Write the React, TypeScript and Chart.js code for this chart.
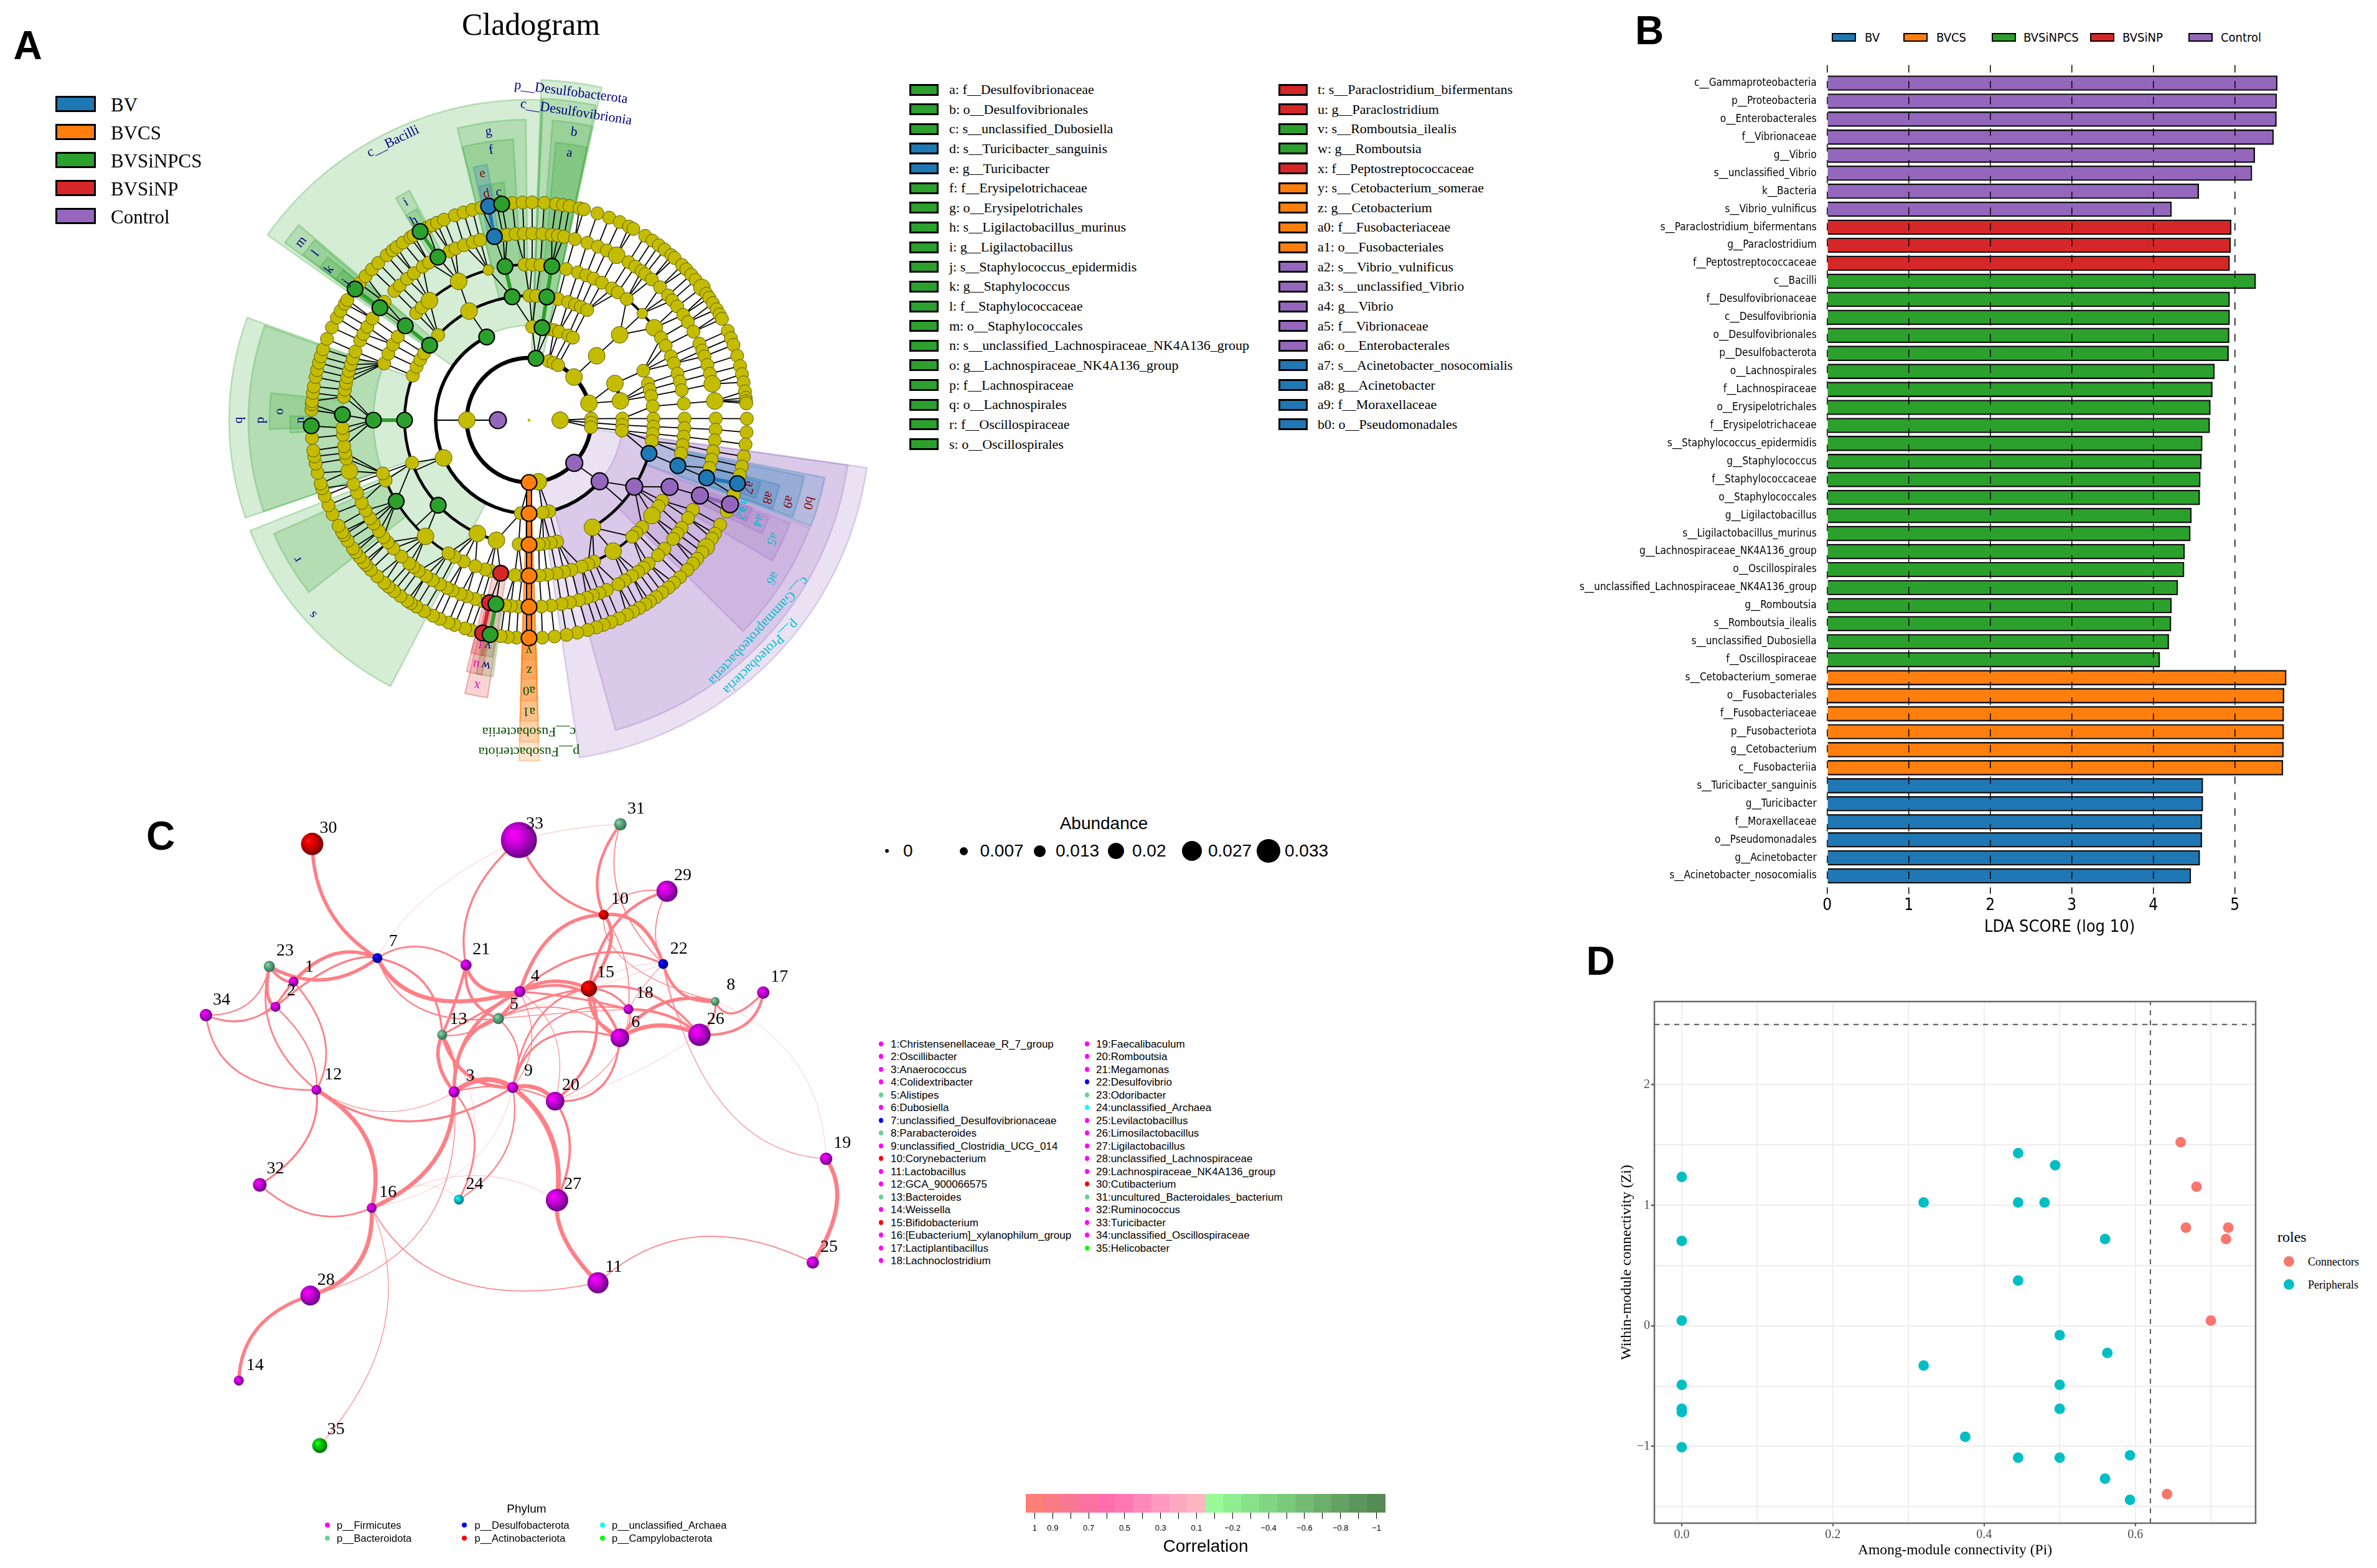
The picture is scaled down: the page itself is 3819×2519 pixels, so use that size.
import React, { useEffect, useRef } from "react";
import { Chart, registerables } from "chart.js";
Chart.register(...registerables);

/* ---------- shared ---------- */
const GROUP_COLORS: Record<string, string> = { BV: "#1F77B4", BVCS: "#FF7F0E", BVSiNPCS: "#2CA02C", BVSiNP: "#D62728", Control: "#9467BD" };
const GROUP_RGB: Record<string, string> = { BV: "31,119,180", BVCS: "255,127,14", BVSiNPCS: "44,160,44", BVSiNP: "214,39,40", Control: "148,103,189" };
const GROUP_NAMES = ["BV", "BVCS", "BVSiNPCS", "BVSiNP", "Control"];
const SERIF = '"Liberation Serif"';
const SANS = '"Liberation Sans"';
const COND = '"DejaVu Sans Condensed","DejaVu Sans"';

/* ---------- panel A: cladogram taxa legend ---------- */
const cladeKeyLeft: [string, string][] = [
  ["a: f__Desulfovibrionaceae", "BVSiNPCS"], ["b: o__Desulfovibrionales", "BVSiNPCS"], ["c: s__unclassified_Dubosiella", "BVSiNPCS"],
  ["d: s__Turicibacter_sanguinis", "BV"], ["e: g__Turicibacter", "BV"], ["f: f__Erysipelotrichaceae", "BVSiNPCS"],
  ["g: o__Erysipelotrichales", "BVSiNPCS"], ["h: s__Ligilactobacillus_murinus", "BVSiNPCS"], ["i: g__Ligilactobacillus", "BVSiNPCS"],
  ["j: s__Staphylococcus_epidermidis", "BVSiNPCS"], ["k: g__Staphylococcus", "BVSiNPCS"], ["l: f__Staphylococcaceae", "BVSiNPCS"],
  ["m: o__Staphylococcales", "BVSiNPCS"], ["n: s__unclassified_Lachnospiraceae_NK4A136_group", "BVSiNPCS"], ["o: g__Lachnospiraceae_NK4A136_group", "BVSiNPCS"],
  ["p: f__Lachnospiraceae", "BVSiNPCS"], ["q: o__Lachnospirales", "BVSiNPCS"], ["r: f__Oscillospiraceae", "BVSiNPCS"], ["s: o__Oscillospirales", "BVSiNPCS"],
];
const cladeKeyRight: [string, string][] = [
  ["t: s__Paraclostridium_bifermentans", "BVSiNP"], ["u: g__Paraclostridium", "BVSiNP"], ["v: s__Romboutsia_ilealis", "BVSiNPCS"],
  ["w: g__Romboutsia", "BVSiNPCS"], ["x: f__Peptostreptococcaceae", "BVSiNP"], ["y: s__Cetobacterium_somerae", "BVCS"],
  ["z: g__Cetobacterium", "BVCS"], ["a0: f__Fusobacteriaceae", "BVCS"], ["a1: o__Fusobacteriales", "BVCS"],
  ["a2: s__Vibrio_vulnificus", "Control"], ["a3: s__unclassified_Vibrio", "Control"], ["a4: g__Vibrio", "Control"],
  ["a5: f__Vibrionaceae", "Control"], ["a6: o__Enterobacterales", "Control"], ["a7: s__Acinetobacter_nosocomialis", "BV"],
  ["a8: g__Acinetobacter", "BV"], ["a9: f__Moraxellaceae", "BV"], ["b0: o__Pseudomonadales", "BV"],
];

/* ---------- panel A: cladogram nodes, angle in degrees clockwise from top, per depth ring ---------- */
const ringRadii = [50, 100, 150, 200, 250, 300, 350];
const ring50 = [90];
const ring100 = [-90, 18.4, 23.3, 27.8, 46.2, 74.3, 88.6, 92.3, 96.5, 171.4];
const ring150 = [1.9, 12.2, 15.5, 18.7, 24.9, 28, 46.4, 66.9, 78.1, 89, 93, 96.4, 167.5, 171.7, 185.1, 246.2];
const ring200 = [-69, -64.6, -60.9, -57.5, -46.9, -28.8, 0.2, 3.3, 13.5, 18.3, 21.7, 24.6, 27.8, 46.7, 66.6, 72.8, 75.8, 78.8, 83.6, 89.3, 93, 96.3, 99.7, 149.4, 167, 170, 173.3, 175.5, 184.8, 195.2, 204.5, 250];
const ring250 = [-68.6, -64.7, -60.9, -57.5, -46.5, -43.6, -39.8, -26.9, -15.2, -1.7, 1.1, 4.2, 13.8, 18.3, 21.5, 24.5, 27.9, 32.2, 34.8, 38.9, 46.7, 53.6, 58, 61.4, 65.8, 68.6, 72.6, 75.6, 78.9, 83.9, 89.4, 92.9, 96.1, 99.2, 102.3, 121.2, 123.6, 127.8, 133.4, 136.4, 138.5, 147.3, 155.3, 157.7, 160.3, 164.2, 167, 169.8, 173.3, 176.2, 182.5, 185.3, 194.2, 196.4, 200.2, 204.8, 208.6, 211.2, 221.7, 247.2, 250];
const ring300 = [-82.8, -80.6, -78.6, -76.7, -74.7, -72.7, -70.7, -68.4, -64.7, -62.5, -60, -57, -50.7, -46.2, -43.8, -40.8, -38.1, -34.7, -32.4, -25.2, -23.2, -20.4, -17.5, -15.2, -8, -6.7, -4.1, -1.6,
  1, 4.1, 7, 8.9, 10.8, 14.2, 18.2, 21.6, 24.6, 28, 32.2, 34.7, 37, 38.5, 41.1, 44.6, 48.1, 50.1, 52.5, 55.7, 58.3, 61.7, 65.8, 68.1, 70, 72.8, 75.6, 78.8, 84.1, 89.5,
  92.9, 96.2, 99.6, 102.2, 104.8, 118.7, 121.6, 125.2, 127.4, 129.5, 133.5, 136.3, 140.2, 142.2, 144.3, 146.6, 149.2, 151.5, 155.4, 157.9, 160, 162, 164.5, 167.4, 170, 173.2, 176.2,
  183.3, 185.6, 187.4, 194.6, 196.8, 199.5, 201.5, 204.2, 206.1, 208.5, 211.1, 213.5, 216.2, 218.2, 219.9, 223.1, 226.6, 229.2, 231.2, 233.5, 236.4, 238.3, 241.1, 243.7, 247.1, 250, 254.2, 258.1, 259.9, 262, 265.5, 267.6];
const ring350 = [-87.3, -85.8, -85, -82.8, -81.1, -78.6, -76.7, -74.7, -73, -71, -68.1, -64.8, -61.9, -59.9, -57.7, -56.5, -51.1, -48.6, -46.2, -43.8, -40.8, -38.8, -37.4, -35.4, -33, -32, -27.9, -26.6, -25, -23, -19.9, -17.5, -15.1, -12.6, -8.5, -4.4, -1.7,
  0.8, 4, 7.1, 9, 10.7, 13.4, 14.6, 18.3, 21.6, 24.6, 27.3, 28.6, 32.2, 34.5, 36.6, 38.5, 40.8, 41.9, 44.6, 46.2, 48.1, 49.9, 52.5, 54.5, 55.8, 57.5, 59.4, 61, 62.3, 65.8, 67.9, 69.8, 72.8, 75.6, 77.8, 80, 82.4, 84.1, 85, 85.6, 89.6,
  93.2, 96.4, 99.6, 102.3, 104.6, 110, 114.8, 118.7, 121.4, 122.9, 125.6, 127.3, 129.5, 131.2, 133.4, 136.1, 138.3, 140.2, 142.3, 144.3, 146.3, 147.7, 149.6, 151.5, 153.3, 155.6, 157.9, 160, 162, 164.4, 167.2, 170.1, 173.3, 176.5,
  183.3, 185.6, 187.5, 195.4, 197.1, 200, 201.7, 204.2, 206.2, 208.8, 211.2, 212.9, 214, 216.2, 218.3, 220.2, 221.7, 224.2, 226.6, 228.4, 229.4, 231.1, 232.7, 234, 236.4, 238.2, 239.1, 241, 244.4, 247, 249.7, 251.8, 253.1, 256, 258.5, 260.4, 262, 265.3];
const bigYellow: [number, number][] = [[100, -90], [100, 46.2], [100, 74.3], [100, 171.4], [150, 246.2], [150, 46.4], [150, 78.1], [150, 66.9], [200, 46.7], [200, -28.8], [200, 149.4], [200, 195.2], [200, 204.5], [250, -26.9], [250, 147.3], [250, 221.7], [250, 53.6], [250, 127.8], [250, -39.8], [300, 254.2], [300, 28], [300, 84.1], [300, 78.8], [350, 125.6], [350, 52.5]];
const smallYellow: [number, number][] = [[250, -15.2], [250, 46.7]];
const hlGreen: [number, number][] = [[100, 6.3], [150, 8], [200, 8.2], [250, 8.4], [150, -27], [200, -90], [250, -90], [300, -88.3], [350, -91.5], [200, -53], [250, -52.7], [300, -53], [350, -53], [200, -7.8], [250, -8.9], [300, -29.2], [350, -30], [350, -7.2], [200, 226.9], [250, 238.6], [300, 190.2], [350, 190.3]];
const hlBlue: [number, number][] = [[300, -10.7], [350, -10.7], [200, 105.5], [250, 107], [300, 108], [350, 106.9]];
const hlRed: [number, number][] = [[250, 190.5], [300, 192.2], [350, 192.3]];
const hlOrange: [number, number][] = [[100, 180], [150, 180], [200, 180], [250, 180], [300, 180], [350, 180]];
const hlPurple: [number, number][] = [[50, -90], [100, 133.4], [150, 130.9], [200, 122.3], [250, 115.4], [300, 113.8], [350, 112.7]];
// thick arcs that join sibling clades: ring radius, from angle, to angle
const cladeArcs: [number, number, number][] = [[100, 92, 434.3], [150, 131, 180], [150, 180, 333], [150, 66.9, 78.1], [200, -90, -69], [200, -46.9, 8.2], [200, 105.5, 149.4], [200, 195.2, 270], [200, 180, 184.8], [250, -39.8, -15.2], [250, -8.9, 1.1], [250, 38.9, 53.6], [250, 138.5, 155.3], [250, 211.2, 250]];
const cladeSpokes: [number, number, number][] = [[100, 150, -90], [150, 200, 246.2], [150, 200, 131], [200, 250, 226.9]];
// highlight sectors: inner ring, outer reach, from angle, to angle, group
const cladeSectors: [number, number, number, number, string][] = [
  [152, 515, -54.7, 2.5, "BVSiNPCS"], [100, 547, 2.1, 12.3, "BVSiNPCS"], [150, 517, 2.3, 12, "BVSiNPCS"], [200, 483, 4.5, 12.2, "BVSiNPCS"], [250, 448, 5.5, 12, "BVSiNPCS"],
  [200, 483, -13.8, -0.6, "BVSiNPCS"], [250, 452, -13.7, -3.2, "BVSiNPCS"], [350, 384, -9, -6, "BVSiNPCS"], [300, 416, -12.4, -9.3, "BV"], [350, 384, -12, -9.5, "BV"],
  [200, 485, -54, -49.7, "BVSiNPCS"], [250, 450, -53.8, -50, "BVSiNPCS"], [300, 416, -54, -51, "BVSiNPCS"], [350, 384, -54, -51, "BVSiNPCS"],
  [300, 416, -31, -27.5, "BVSiNPCS"], [350, 384, -31, -28, "BVSiNPCS"],
  [200, 482, -109, -70, "BVSiNPCS"], [250, 451, -109, -70.3, "BVSiNPCS"], [300, 417, -92, -84, "BVSiNPCS"], [350, 384, -93, -89, "BVSiNPCS"],
  [150, 482, -152.5, -111.6, "BVSiNPCS"], [250, 449, -128, -114, "BVSiNPCS"],
  [300, 416, 188, 191.8, "BVSiNPCS"], [350, 385, 188.8, 191.5, "BVSiNPCS"], [250, 451, 188.5, 193.2, "BVSiNP"], [300, 416, 190.5, 194, "BVSiNP"], [350, 385, 191, 194, "BVSiNP"],
  [100, 547, 178.3, 181.7, "BVCS"], [150, 517, 178.3, 181.7, "BVCS"], [200, 483, 178.3, 181.7, "BVCS"], [250, 451, 178.3, 181.7, "BVCS"], [300, 416, 178.3, 181.7, "BVCS"], [350, 385, 178.3, 181.7, "BVCS"],
  [100, 548, 98, 171.5, "Control"], [150, 517, 98, 164.4, "Control"], [200, 483, 111, 134.6, "Control"], [250, 451, 111.5, 120, "Control"], [300, 416, 112, 116, "Control"], [350, 385, 111.5, 115, "Control"],
  [200, 484, 101, 110.6, "BV"], [250, 451, 101.5, 110.2, "BV"], [300, 416, 104.5, 110, "BV"], [350, 385, 105, 109, "BV"],
];
const NAVY = "#000080", MAROON = "#8B0000", CYAN = "#00BFCF", MAG = "#E000C0", DKGREEN = "#004D00";
const cladeLabels: [string, number, number, string, number][] = [
  ["a", 434, 8.6, NAVY, 21], ["b", 468, 8.9, NAVY, 21], ["c", 369, -7.6, NAVY, 21], ["d", 370, -10.7, MAROON, 21], ["e", 403, -10.7, MAROON, 21], ["f", 438, -8, NAVY, 21], ["g", 468, -8, NAVY, 21],
  ["h", 370, -30, NAVY, 21], ["i", 402, -29.5, NAVY, 21], ["j", 368, -53, NAVY, 21], ["k", 402, -53, NAVY, 21], ["l", 435, -52, NAVY, 21], ["m", 465, -52, NAVY, 21],
  ["n", 368, -90, NAVY, 21], ["o", 401, -88, NAVY, 21], ["p", 432, -90, NAVY, 21], ["q", 467, -90, NAVY, 21], ["r", 434, -121, NAVY, 21], ["s", 467, -132, NAVY, 21],
  ["t", 370, 192.3, MAG, 21], ["u", 401, 192.2, MAG, 21], ["v", 368, 190.3, NAVY, 21], ["w", 400, 190, NAVY, 21], ["x", 434, 191.1, MAG, 21],
  ["y", 370, 180, DKGREEN, 21], ["z", 402, 180, DKGREEN, 21], ["a0", 434, 180, DKGREEN, 21], ["a1", 468, 180, DKGREEN, 21],
  ["a2", 373, 113.5, CYAN, 21], ["a3", 370, 111.5, CYAN, 21], ["a4", 402, 113.6, CYAN, 21], ["a5", 435, 116, CYAN, 21], ["a6", 466, 123, CYAN, 21],
  ["a7", 369, 107, MAROON, 21], ["a8", 403, 108, MAROON, 21], ["a9", 436, 107.5, MAROON, 21], ["b0", 468, 106.5, MAROON, 21],
  ["c__Bacilli", 498, -26, NAVY, 22], ["p__Desulfobacterota", 531, 7.3, NAVY, 22], ["c__Desulfovibrionia", 500, 8.7, NAVY, 22],
  ["c__Fusobacteriia", 500, 180, DKGREEN, 22], ["p__Fusobacteriota", 532, 180, DKGREEN, 22], ["c__Gammaproteobacteria", 500, 132.5, CYAN, 22], ["p__Proteobacteria", 532, 135.6, CYAN, 22],
];

/* ---------- panel B: LDA scores ---------- */
const ldaLabels = ["c__Gammaproteobacteria", "p__Proteobacteria", "o__Enterobacterales", "f__Vibrionaceae", "g__Vibrio", "s__unclassified_Vibrio", "k__Bacteria", "s__Vibrio_vulnificus",
  "s__Paraclostridium_bifermentans", "g__Paraclostridium", "f__Peptostreptococcaceae",
  "c__Bacilli", "f__Desulfovibrionaceae", "c__Desulfovibrionia", "o__Desulfovibrionales", "p__Desulfobacterota", "o__Lachnospirales", "f__Lachnospiraceae", "o__Erysipelotrichales", "f__Erysipelotrichaceae", "s__Staphylococcus_epidermidis", "g__Staphylococcus", "f__Staphylococcaceae", "o__Staphylococcales", "g__Ligilactobacillus", "s__Ligilactobacillus_murinus", "g__Lachnospiraceae_NK4A136_group", "o__Oscillospirales", "s__unclassified_Lachnospiraceae_NK4A136_group", "g__Romboutsia", "s__Romboutsia_ilealis", "s__unclassified_Dubosiella", "f__Oscillospiraceae",
  "s__Cetobacterium_somerae", "o__Fusobacteriales", "f__Fusobacteriaceae", "p__Fusobacteriota", "g__Cetobacterium", "c__Fusobacteriia",
  "s__Turicibacter_sanguinis", "g__Turicibacter", "f__Moraxellaceae", "o__Pseudomonadales", "g__Acinetobacter", "s__Acinetobacter_nosocomialis"];
const ldaValues = [5.52, 5.513, 5.51, 5.475, 5.244, 5.21, 4.557, 4.223, 4.955, 4.948, 4.936, 5.256, 4.936, 4.936, 4.93, 4.923, 4.75, 4.724, 4.7, 4.692, 4.6, 4.59, 4.576, 4.57, 4.467, 4.454, 4.384, 4.377, 4.3, 4.223, 4.217, 4.19, 4.08, 5.63, 5.603, 5.6, 5.6, 5.597, 5.59, 4.608, 4.608, 4.596, 4.595, 4.57, 4.46];
const ldaGroupSpans: [string, number][] = [["Control", 8], ["BVSiNP", 3], ["BVSiNPCS", 22], ["BVCS", 6], ["BV", 6]];
const ldaTicks = [0, 1, 2, 3, 4, 5];

/* ---------- panel C: network ---------- */
const genera = ["Christensenellaceae_R_7_group", "Oscillibacter", "Anaerococcus", "Colidextribacter", "Alistipes", "Dubosiella", "unclassified_Desulfovibrionaceae", "Parabacteroides", "unclassified_Clostridia_UCG_014", "Corynebacterium", "Lactobacillus", "GCA_900066575", "Bacteroides", "Weissella", "Bifidobacterium", "[Eubacterium]_xylanophilum_group", "Lactiplantibacillus", "Lachnoclostridium", "Faecalibaculum", "Romboutsia", "Megamonas", "Desulfovibrio", "Odoribacter", "unclassified_Archaea", "Levilactobacillus", "Limosilactobacillus", "Ligilactobacillus", "unclassified_Lachnospiraceae", "Lachnospiraceae_NK4A136_group", "Cutibacterium", "uncultured_Bacteroidales_bacterium", "Ruminococcus", "Turicibacter", "unclassified_Oscillospiraceae", "Helicobacter"];
const F = "p__Firmicutes", B = "p__Bacteroidota", D = "p__Desulfobacterota", A = "p__Actinobacteriota", R = "p__unclassified_Archaea", K = "p__Campylobacterota";
const generaPhylum = [F, F, F, F, B, F, D, B, F, A, F, F, B, F, A, F, F, F, F, F, F, D, B, R, F, F, F, F, F, A, B, F, F, F, K];
const phylumColor: Record<string, string> = { [F]: "#FF00FF", [B]: "#66D18F", [D]: "#0000FF", [A]: "#FF0000", [R]: "#00FFFF", [K]: "#00FF00" };
const phylumShade: Record<string, string[]> = {
  [F]: ["#FF00FF", "#C800D8", "#62007E"], [B]: ["#8FE0A8", "#5FA57E", "#2E6B50"], [D]: ["#2020FF", "#0000D8", "#00006E"],
  [A]: ["#FF1010", "#D80000", "#6E0000"], [R]: ["#20FFFF", "#00C8D0", "#006A70"], [K]: ["#30FF30", "#00C800", "#006A00"],
};
const phylumOrder = [[F, B], [D, A], [R, K]];
const nodeX = [355, 317, 692, 830, 785, 1040, 531, 1240, 815, 1006, 994, 403, 667, 240, 975, 519, 1341, 1058, 1473, 904, 717, 1131, 304, 702, 1445, 1207, 908, 390, 1139, 394, 1041, 284, 828, 171, 410];
const nodeY = [376, 427, 600, 396, 451, 490, 328, 416, 591, 240, 988, 596, 484, 1187, 390, 836, 398, 432, 736, 619, 342, 340, 345, 819, 947, 484, 820, 1014, 192, 96, 56, 789, 88, 444, 1319];
const nodeSize = [8, 8, 9, 9, 9, 15, 8, 7, 9, 8, 17, 8, 8, 8, 13, 8, 10, 8, 10, 15, 9, 8, 9, 8, 10, 18, 18, 16, 17, 18, 10, 11, 29, 10, 12];
const labelX = [388, 350, 726, 862, 818, 1073, 564, 1273, 848, 1040, 1027, 438, 701, 274, 1010, 553, 1375, 1092, 1507, 937, 749, 1164, 337, 735, 1479, 1241, 941, 423, 1172, 428, 1074, 317, 861, 204, 444];
const labelY = [346, 395, 568, 365, 422, 459, 295, 383, 558, 208, 956, 565, 452, 1156, 358, 805, 366, 400, 704, 587, 311, 310, 313, 788, 916, 452, 788, 983, 160, 64, 25, 756, 55, 413, 1287];
// from node, to node, correlation weight, mid-way point of the curved edge
const networkEdges: [number, number, number, number, number][] = [
  [30, 7, 5, 430, 230], [33, 21, 3, 730, 210], [33, 10, 3.5, 900, 190], [33, 31, 0.9, 935, 66], [33, 7, 0.8, 640, 200], [31, 10, 4, 995, 150], [31, 22, 1.5, 1038, 200],
  [10, 29, 1.5, 1060, 198], [29, 15, 4, 1030, 260], [29, 22, 1.5, 1115, 270], [10, 22, 5, 1080, 260], [10, 4, 5, 900, 280], [10, 15, 5, 1020, 300], [10, 18, 1.5, 1050, 330], [10, 8, 1.3, 1060, 340],
  [22, 8, 4, 1170, 400], [22, 4, 3, 980, 320], [22, 15, 0.7, 1050, 350], [22, 18, 1, 1090, 385], [22, 26, 1, 1160, 440], [7, 21, 2.5, 620, 305], [7, 1, 5, 440, 320], [7, 23, 5, 420, 372], [7, 2, 3, 440, 345], [7, 4, 6, 640, 410], [7, 13, 3, 630, 380], [7, 5, 2, 620, 430],
  [23, 1, 4, 330, 370], [23, 2, 5, 300, 400], [23, 34, 2, 260, 420], [1, 2, 3, 335, 400], [1, 34, 2, 270, 450], [2, 34, 2, 245, 455], [23, 12, 2.5, 310, 480], [1, 12, 2.5, 420, 490], [2, 12, 2, 385, 510], [34, 12, 2.5, 240, 560],
  [12, 32, 3, 380, 700], [12, 16, 6, 510, 700], [12, 9, 3, 600, 660], [12, 3, 1, 550, 640], [32, 16, 2.5, 400, 850], [16, 3, 6, 650, 740], [16, 28, 6, 490, 950], [28, 14, 5, 280, 1080], [16, 35, 1, 545, 1080], [16, 11, 1.5, 700, 985], [16, 27, 0.8, 720, 770], [16, 24, 0.7, 620, 790], [28, 3, 1.2, 630, 870],
  [3, 24, 2.5, 735, 700], [9, 24, 2, 800, 720], [13, 24, 0.7, 735, 650], [9, 16, 0.7, 720, 750], [9, 27, 7, 895, 690], [20, 27, 3.5, 935, 710], [27, 11, 6, 925, 900], [11, 25, 1.5, 1200, 895], [19, 25, 6, 1495, 830], [22, 19, 1, 1260, 630], [8, 19, 0.7, 1410, 540],
  [17, 26, 4, 1300, 465], [17, 8, 3, 1280, 440], [8, 26, 3, 1235, 450], [6, 8, 5, 1130, 420], [6, 26, 6, 1120, 465], [18, 26, 4, 1140, 445], [6, 18, 2, 1060, 460], [15, 6, 5, 990, 450], [15, 18, 3, 1020, 400], [15, 20, 4, 985, 510],
  [4, 15, 5, 900, 375], [4, 6, 4, 960, 395], [4, 18, 3, 950, 410], [4, 5, 5, 810, 425], [4, 21, 5, 755, 390], [21, 5, 4, 730, 410], [21, 13, 4, 695, 415], [5, 3, 5, 715, 500], [13, 3, 5, 660, 540], [13, 3, 3, 690, 535], [13, 5, 2, 720, 480], [13, 9, 5, 720, 565], [13, 4, 3, 740, 445], [4, 3, 5, 725, 480],
  [5, 9, 2, 825, 515], [3, 9, 7, 755, 575], [9, 20, 6, 865, 592], [9, 6, 3, 890, 490], [9, 18, 2, 900, 455], [9, 15, 2.5, 870, 450], [4, 9, 1.2, 855, 500], [20, 6, 3, 1000, 590], [20, 18, 1, 1020, 540], [20, 26, 0.7, 1050, 570], [3, 20, 2, 800, 590], [4, 20, 1, 905, 490], [5, 15, 3, 880, 410], [5, 6, 1.5, 920, 430], [5, 18, 1.2, 920, 440], [5, 22, 0.7, 950, 400], [15, 26, 3, 1100, 400],
];
const abundanceValues = ["0", "0.007", "0.013", "0.02", "0.027", "0.033"];
const abundanceDots = [3, 6.5, 9.5, 13, 16, 19];

/* ---------- colour bar ---------- */
const corrLabels = ["1", "0.9", "", "0.7", "", "0.5", "", "0.3", "", "0.1", "", "\u22120.2", "", "\u22120.4", "", "\u22120.6", "", "\u22120.8", "", "\u22121"];
const corrColors = ["#FE7F76", "#FB7B85", "#F87893", "#FB72A0", "#FF6DAE", "#FF78B4", "#FF88BA", "#FF99C0", "#FFA8C2", "#FFB6C1", "#98FB98", "#8FEE90", "#88E288", "#82D582", "#7BC97B", "#74BC74", "#6CAF6C", "#64A264", "#5C965C", "#558B55"];
const corrCells = [1, 1, 1, 1, 1, 1, 1, 1, 1, 1, 1, 1, 1, 1, 1, 1, 1, 1, 1, 1];

/* ---------- panel D: Zi-Pi ---------- */
const peripheralPi = [0, 0, 0, 0, 0, 0, 0, 0.32, 0.32, 0.445, 0.445, 0.48, 0.494, 0.56, 0.445, 0.5, 0.563, 0.5, 0.5, 0.375, 0.445, 0.5, 0.593, 0.56, 0.593];
const peripheralZi = [1.235, 0.705, 0.044, -0.49, -0.688, -0.715, -1.007, 1.023, -0.329, 1.433, 1.023, 1.023, 1.332, 0.72, 0.376, -0.077, -0.225, -0.49, -0.688, -0.92, -1.094, -1.094, -1.074, -1.268, -1.443];
const connectorPi = [0.66, 0.681, 0.667, 0.723, 0.72, 0.7, 0.642];
const connectorZi = [1.523, 1.154, 0.815, 0.815, 0.72, 0.044, -1.396];
const piThreshold = 0.62, ziThreshold = 2.5;
const piRange = [-0.0362, 0.7592], ziRange = [-1.637, 2.69];

/* ---------- helpers ---------- */
const baseOptions = {
  responsive: false, animation: false as const, devicePixelRatio: 1, events: [] as string[],
  plugins: { legend: { display: false }, tooltip: { enabled: false } },
};
const polar = (r: number, t: number) => ({ x: r * Math.sin((t * Math.PI) / 180), y: r * Math.cos((t * Math.PI) / 180) });
// Fix an axis box to an exact size and stop its edge labels from insetting the plot area.
const fixBox = (s: any, size: { width?: number; height?: number }) => {
  if (size.width !== undefined) s.width = size.width;
  if (size.height !== undefined) s.height = size.height;
  s.paddingTop = 0; s.paddingBottom = 0; s.paddingLeft = 0; s.paddingRight = 0;
};

function ChartBox({ left, top, width, height, make }: any) {
  const ref = useRef<HTMLCanvasElement>(null);
  useEffect(() => {
    const c = new Chart(ref.current as any, make());
    return () => c.destroy();
  }, []);
  return <canvas ref={ref} width={width} height={height} style={{ position: "absolute", left, top, width, height }} />;
}
function T({ x, y, size, font = SANS, center, bold, color = "#000", children }: any) {
  return <span style={{ position: "absolute", left: x, top: y, transform: center ? "translate(-50%,-50%)" : "translateY(-50%)", font: `${bold ? "bold " : ""}${size}px ${font}`, color, whiteSpace: "nowrap", lineHeight: 1 }}>{children}</span>;
}
function Box({ x, y, w, h, fill, border = 0, round }: any) {
  return <div style={{ position: "absolute", left: x, top: y, width: w, height: h, boxSizing: "border-box", background: fill, border: border ? `${border}px solid #000` : "none", borderRadius: round ? "50%" : 0 }} />;
}

/* ---------- chart factories ---------- */
function makeCladogram() {
  const rings: Record<number, number[]> = { 50: ring50, 100: ring100, 150: ring150, 200: ring200, 250: ring250, 300: ring300, 350: ring350 };
  const hlSets: [string, [number, number][]][] = [["BVSiNPCS", hlGreen], ["BV", hlBlue], ["BVSiNP", hlRed], ["BVCS", hlOrange], ["Control", hlPurple]];
  const colorOf = new Map<string, string>();
  hlSets.forEach(([g, set]) => set.forEach(([r, t]) => colorOf.set(`${r}:${t}`, g)));
  const all: Record<number, number[]> = {};
  ringRadii.forEach((r) => { all[r] = [...rings[r], ...[...colorOf.keys()].filter((k) => +k.split(":")[0] === r).map((k) => +k.split(":")[1])]; });
  const big = new Set(bigYellow.map(([r, t]) => `${r}:${t}`));
  const small = new Set(smallYellow.map(([r, t]) => `${r}:${t}`));
  const yellow: any[] = [];
  ringRadii.forEach((r) => rings[r].forEach((t) => yellow.push({ ...polar(r, t), rad: big.has(`${r}:${t}`) || r === 50 ? 13.5 : small.has(`${r}:${t}`) ? 8.5 : 10.5 })));
  const plugin = {
    id: "clade",
    beforeDatasetsDraw(chart: any) {
      const { ctx, scales: { x, y } } = chart;
      const cx = x.getPixelForValue(0), cy = y.getPixelForValue(0), k = x.getPixelForValue(1) - cx;
      const phi = (t: number) => ((t - 90) * Math.PI) / 180;
      const at = (r: number, t: number) => { const p = polar(r, t); return [x.getPixelForValue(p.x), y.getPixelForValue(p.y)]; };
      ctx.save();
      cladeSectors.forEach(([r0, r1, t0, t1, g]) => {
        ctx.beginPath();
        ctx.arc(cx, cy, r1 * k, phi(t0), phi(t1));
        ctx.arc(cx, cy, r0 * k, phi(t1), phi(t0), true);
        ctx.closePath();
        ctx.fillStyle = `rgba(${GROUP_RGB[g]},0.2)`;
        ctx.fill();
        ctx.strokeStyle = `rgba(${GROUP_RGB[g]},0.28)`;
        ctx.lineWidth = 2.5;
        ctx.stroke();
      });
      ctx.lineCap = "butt";
      const widths: Record<number, number> = { 100: 6.5, 150: 5.5, 200: 4.5, 250: 4 };
      ctx.strokeStyle = "#000";
      cladeArcs.forEach(([r, a, b]) => { ctx.lineWidth = widths[r]; ctx.beginPath(); ctx.arc(cx, cy, r * k, phi(a), phi(b)); ctx.stroke(); });
      ctx.lineWidth = 1.8;
      cladeSpokes.forEach(([r0, r1, t]) => { const p = at(r0, t), q = at(r1, t); ctx.beginPath(); ctx.moveTo(p[0], p[1]); ctx.lineTo(q[0], q[1]); ctx.stroke(); });
      const coloured: any[] = [];
      for (let i = 1; i < ringRadii.length; i++) {
        const r = ringRadii[i], pr = ringRadii[i - 1];
        all[r].forEach((t) => {
          let best = 0, bd = 1e9;
          all[pr].forEach((u) => { const d = Math.abs(((t - u + 540) % 360) - 180); if (d < bd) { bd = d; best = u; } });
          if (bd > 12) return;
          const p = at(pr, best), q = at(r, t);
          const a = colorOf.get(`${r}:${t}`), b = colorOf.get(`${pr}:${best}`);
          if (a && a === b && (a === "BVCS" || r === 350 || (a === "BVSiNPCS" && (r === 200 || r === 250)))) coloured.push([p, q, a]);
          else { ctx.lineWidth = 1.8; ctx.strokeStyle = "#000"; ctx.beginPath(); ctx.moveTo(p[0], p[1]); ctx.lineTo(q[0], q[1]); ctx.stroke(); }
        });
      }
      coloured.forEach(([p, q, g]) => {
        if (g === "BVCS") { ctx.lineWidth = 10; ctx.strokeStyle = "#000"; ctx.beginPath(); ctx.moveTo(p[0], p[1]); ctx.lineTo(q[0], q[1]); ctx.stroke(); }
        ctx.lineWidth = 6; ctx.strokeStyle = GROUP_COLORS[g]; ctx.beginPath(); ctx.moveTo(p[0], p[1]); ctx.lineTo(q[0], q[1]); ctx.stroke();
      });
      ctx.restore();
    },
    afterDatasetsDraw(chart: any) {
      const { ctx, scales: { x, y } } = chart;
      ctx.save();
      ctx.textAlign = "center"; ctx.textBaseline = "middle";
      cladeLabels.forEach(([s, r, t, c, size]) => {
        const p = polar(r, t);
        ctx.save();
        ctx.translate(x.getPixelForValue(p.x), y.getPixelForValue(p.y));
        ctx.rotate((t * Math.PI) / 180);
        ctx.font = `${size}px ${SERIF}`;
        ctx.fillStyle = c;
        ctx.fillText(s, 0, 0);
        ctx.restore();
      });
      ctx.restore();
    },
  };
  return {
    type: "scatter",
    data: {
      datasets: [
        ...hlSets.map(([g, set]) => ({ order: 1, data: set.map(([r, t]) => polar(r, t)), pointRadius: g === "Control" ? 13.5 : 12.5, pointBackgroundColor: GROUP_COLORS[g], pointBorderColor: "#000", pointBorderWidth: 2.2 })),
        { order: 2, data: yellow, pointRadius: (c: any) => (c.raw ? c.raw.rad : 10), pointBackgroundColor: "#C4BC00", pointBorderColor: "#5E5A00", pointBorderWidth: 1 },
        { order: 0, data: [{ x: 0, y: 0 }], pointRadius: 2.5, pointBackgroundColor: "#C4BC00", pointBorderWidth: 0 },
      ],
    },
    options: { ...baseOptions, layout: { autoPadding: false, padding: 0 }, scales: { x: { display: false, min: -600, max: 600 }, y: { display: false, min: -600, max: 600 } } },
    plugins: [plugin],
  };
}

function makeLda() {
  const colors: string[] = [];
  ldaGroupSpans.forEach(([g, n]) => { for (let i = 0; i < n; i++) colors.push(GROUP_COLORS[g]); });
  return {
    type: "bar",
    data: { datasets: [{ data: ldaValues.map((v, i) => ({ x: v, y: i })), backgroundColor: colors, borderColor: "#111", borderWidth: 2.4, barThickness: 24 }] },
    options: {
      ...baseOptions, indexAxis: "y", layout: { autoPadding: false, padding: { top: 4.6, right: 117.6, left: 0, bottom: 0 } },
      scales: {
        y: {
          type: "linear", reverse: true, offset: false, min: -1, max: ldaLabels.length, grid: { display: false, drawTicks: false }, border: { display: false },
          afterFit: (s: any) => fixBox(s, { width: 435.7 }),
          afterBuildTicks: (s: any) => { s.ticks = ldaLabels.map((_, i) => ({ value: i })); },
          ticks: { autoSkip: false, padding: 17, color: "#000", font: { family: COND, size: 17 }, callback: (v: number) => ldaLabels[v] },
        },
        x: {
          type: "linear", min: 0, max: 5.7, afterFit: (s: any) => fixBox(s, { height: 84 }),
          grid: { z: 1, color: "#000", lineWidth: 1.5, drawTicks: false }, border: { display: false, dash: [12, 13.4] },
          afterBuildTicks: (s: any) => { s.ticks = ldaTicks.map((v) => ({ value: v })); },
          ticks: { padding: 4, color: "#000", font: { family: COND, size: 26 } },
          title: { display: true, text: "LDA SCORE (log 10)", color: "#000", font: { family: COND, size: 27 }, padding: { top: 0, bottom: 14 } },
        },
      },
    },
  };
}

function makeNetwork() {
  const plugin = {
    id: "net",
    beforeDatasetsDraw(chart: any) {
      const { ctx, scales: { x, y } } = chart;
      ctx.save();
      ctx.lineCap = "round";
      networkEdges.forEach(([a, b, w, mx, my]) => {
        const ax = nodeX[a - 1], ay = nodeY[a - 1], bx = nodeX[b - 1], by = nodeY[b - 1];
        const cx = 2 * mx - (ax + bx) / 2, cy = 2 * my - (ay + by) / 2;
        ctx.beginPath();
        ctx.moveTo(x.getPixelForValue(ax), y.getPixelForValue(ay));
        ctx.quadraticCurveTo(x.getPixelForValue(cx), y.getPixelForValue(cy), x.getPixelForValue(bx), y.getPixelForValue(by));
        ctx.strokeStyle = w <= 0.9 ? "rgba(255,127,140,0.55)" : "#FF7F86";
        ctx.lineWidth = w * 1.1;
        ctx.stroke();
      });
      ctx.restore();
    },
    afterDatasetsDraw(chart: any) {
      const { ctx, scales: { x, y } } = chart;
      ctx.save();
      ctx.font = `28px ${SERIF}`; ctx.fillStyle = "#000"; ctx.textAlign = "center"; ctx.textBaseline = "middle";
      labelX.forEach((lx, i) => ctx.fillText(String(i + 1), x.getPixelForValue(lx), y.getPixelForValue(labelY[i])));
      ctx.restore();
    },
  };
  return {
    type: "scatter",
    data: {
      datasets: [{
        data: nodeX.map((v, i) => ({ x: v, y: nodeY[i] })),
        pointRadius: (c: any) => (c.dataIndex === undefined ? 8 : nodeSize[c.dataIndex]),
        pointBorderWidth: 0,
        pointBackgroundColor: (c: any) => {
          const { chart, dataIndex: i } = c;
          if (i === undefined) return "#C800D8";
          const s = phylumShade[generaPhylum[i]];
          const px = chart.scales.x.getPixelForValue(nodeX[i]), py = chart.scales.y.getPixelForValue(nodeY[i]), r = nodeSize[i];
          if (!Number.isFinite(px) || !Number.isFinite(py)) return s[1];
          const g = chart.ctx.createRadialGradient(px - 0.35 * r, py - 0.35 * r, 0, px - 0.1 * r, py - 0.1 * r, 1.15 * r);
          g.addColorStop(0, s[0]); g.addColorStop(0.45, s[1]); g.addColorStop(1, s[2]);
          return g;
        },
      }],
    },
    options: { ...baseOptions, layout: { autoPadding: false, padding: 0 }, scales: { x: { display: false, min: 0, max: 1568 }, y: { display: false, min: 0, max: 1568, reverse: true } } },
    plugins: [plugin],
  };
}

function makeColorBar() {
  return {
    type: "bar",
    data: { labels: corrLabels, datasets: [{ data: corrCells, backgroundColor: corrColors, barPercentage: 1, categoryPercentage: 1, borderWidth: 0 }] },
    options: {
      ...baseOptions, layout: { autoPadding: false, padding: { left: 20, right: 20, top: 4, bottom: 0 } },
      scales: {
        y: { display: false, min: 0, max: 1 },
        x: {
          afterFit: (s: any) => fixBox(s, { height: 89 }),
          grid: { offset: false, drawOnChartArea: false, drawTicks: true, tickLength: 10, tickColor: "#000", tickWidth: 1 }, border: { display: false },
          ticks: { autoSkip: false, maxRotation: 0, padding: 8, color: "#000", font: { family: SANS, size: 13 } },
          title: { display: true, text: "Correlation", color: "#000", font: { family: SANS, size: 28 }, padding: { top: 0, bottom: 17 } },
        },
      },
    },
  };
}

function makeZiPi() {
  const frame = { id: "frame", afterDraw(chart: any) { const { ctx, chartArea: a } = chart; ctx.save(); ctx.strokeStyle = "#6A6A6A"; ctx.lineWidth = 2.5; ctx.strokeRect(a.left, a.top, a.width, a.height); ctx.restore(); } };
  const minor = (v: number, step: number) => Math.abs(v / step - Math.round(v / step)) > 1e-6;
  return {
    type: "scatter",
    data: {
      datasets: [
        { data: peripheralPi.map((x, i) => ({ x, y: peripheralZi[i] })), pointRadius: 8.5, pointBackgroundColor: "#00BFC4", pointBorderWidth: 0 },
        { data: connectorPi.map((x, i) => ({ x, y: connectorZi[i] })), pointRadius: 8.5, pointBackgroundColor: "#F8766D", pointBorderWidth: 0 },
        { data: [{ x: piRange[0], y: ziThreshold }, { x: piRange[1], y: ziThreshold }], showLine: true, pointRadius: 0, borderColor: "#5A5A5A", borderWidth: 2, borderDash: [8, 8] },
        { data: [{ x: piThreshold, y: ziRange[0] }, { x: piThreshold, y: ziRange[1] }], showLine: true, pointRadius: 0, borderColor: "#5A5A5A", borderWidth: 2, borderDash: [8, 8] },
      ],
    },
    options: {
      ...baseOptions, layout: { autoPadding: false, padding: { top: 9, right: 6, left: 0, bottom: 0 } },
      scales: {
        x: {
          min: piRange[0], max: piRange[1], afterFit: (s: any) => fixBox(s, { height: 72 }), border: { display: false },
          grid: { color: "#EFEFEF", lineWidth: 2, tickLength: 5, tickColor: (c: any) => (c.tick && minor(c.tick.value, 0.2) ? "transparent" : "#555") },
          ticks: { stepSize: 0.1, includeBounds: false, padding: 2, color: "#4D4D4D", font: { family: SERIF, size: 20 }, autoSkip: false, maxRotation: 0, callback: (v: number) => (minor(v, 0.2) ? "" : v.toFixed(1)) },
          title: { display: true, text: "Among-module connectivity (Pi)", color: "#000", font: { family: SERIF, size: 23.5 }, padding: { top: 0, bottom: 14 } },
        },
        y: {
          min: ziRange[0], max: ziRange[1], afterFit: (s: any) => fixBox(s, { width: 98 }), border: { display: false },
          grid: { color: "#EFEFEF", lineWidth: 2.5, tickLength: 5, tickColor: (c: any) => (c.tick && minor(c.tick.value, 1) ? "transparent" : "#555") },
          ticks: { stepSize: 0.5, includeBounds: false, padding: 2, color: "#4D4D4D", font: { family: SERIF, size: 20 }, autoSkip: false, callback: (v: number) => (minor(v, 1) ? "" : v < 0 ? `\u2212${Math.abs(v)}` : String(v)) },
          title: { display: true, text: "Within-module connectivity (Zi)", color: "#000", font: { family: SERIF, size: 24 }, padding: { top: 39, bottom: 0 } },
        },
      },
    },
    plugins: [frame],
  };
}

/* ---------- page ---------- */
export default function App() {
  const half = 18;
  const legendA = GROUP_NAMES.map((g, i) => (
    <React.Fragment key={g}>
      <Box x={89} y={154 + i * 45} w={65} h={26} fill={GROUP_COLORS[g]} border={3} />
      <T x={178} y={167.5 + i * 45} size={31} font={SERIF}>{g}</T>
    </React.Fragment>
  ));
  const keyColumn = (rows: [string, string][], sx: number, tx: number) => rows.map(([s, g], i) => (
    <React.Fragment key={s}>
      <Box x={sx} y={144 + i * 31.64 - 9.5} w={47} h={19} fill={GROUP_COLORS[g]} border={3} />
      <T x={tx} y={144 + i * 31.64} size={22} font={SERIF}>{s}</T>
    </React.Fragment>
  ));
  const legendBx = [[2943, 2996], [3058, 3111], [3200, 3251], [3358, 3410], [3516, 3568]];
  const legendB = GROUP_NAMES.map((g, i) => (
    <React.Fragment key={g}>
      <Box x={legendBx[i][0]} y={53} w={39} h={14} fill={GROUP_COLORS[g]} border={2} />
      <T x={legendBx[i][1]} y={60} size={20} font={COND}>{g}</T>
    </React.Fragment>
  ));
  const abundance = abundanceValues.map((v, i) => {
    const dx = [1425, 1548, 1670, 1793, 1915, 2037.5][i], tx = [1451, 1574.5, 1696, 1819, 1941, 2064][i], r = abundanceDots[i];
    return (
      <React.Fragment key={v}>
        <Box x={dx - r} y={1367 - r} w={2 * r} h={2 * r} fill="#000" round />
        <T x={tx} y={1367} size={28}>{v}</T>
      </React.Fragment>
    );
  });
  const generaList = genera.map((g, i) => {
    const col = i < half ? 0 : 1, row = col ? i - half : i;
    const y = 1677 + row * 20.47;
    return (
      <React.Fragment key={g}>
        <Box x={(col ? 1746 : 1415) - 3.5} y={y - 4} w={7} h={8} fill={phylumColor[generaPhylum[i]]} round />
        <T x={col ? 1761 : 1431} y={y} size={17}>{`${i + 1}:${g}`}</T>
      </React.Fragment>
    );
  });
  const phyla = phylumOrder.flatMap((col, c) => col.map((p, r) => {
    const dx = [526, 746.4, 967.6][c], tx = [541, 762.5, 983][c], y = 2450 + r * 21;
    return (
      <React.Fragment key={p}>
        <Box x={dx - 4} y={y - 4} w={8} h={8} fill={phylumColor[p]} round />
        <T x={tx} y={y} size={16.5}>{p}</T>
      </React.Fragment>
    );
  }));
  return (
    <div style={{ position: "absolute", left: 0, top: 0, width: 3819, height: 2519, background: "#fff", overflow: "hidden" }}>
      <ChartBox left={250} top={75} width={1200} height={1200} make={makeCladogram} />
      <ChartBox left={2500} top={100} width={1300} height={1420} make={makeLda} />
      <ChartBox left={200} top={1280} width={1200} height={1239} make={makeNetwork} />
      <ChartBox left={1628} top={2396} width={618} height={123} make={makeColorBar} />
      <ChartBox left={2560} top={1600} width={1070} height={919} make={makeZiPi} />

      <T x={44.6} y={73} size={64} bold center>A</T>
      <T x={2650} y={49} size={64} bold center>B</T>
      <T x={258} y={1343} size={64} bold center>C</T>
      <T x={2571.5} y={1544} size={64} bold center>D</T>

      <T x={853} y={39} size={50} font={SERIF} center>Cladogram</T>
      {legendA}
      {keyColumn(cladeKeyLeft, 1461, 1525)}
      {keyColumn(cladeKeyRight, 2054, 2117)}
      {legendB}

      <T x={1773.5} y={1323} size={28} center>Abundance</T>
      {abundance}
      {generaList}
      <T x={846} y={2423} size={19} center>Phylum</T>
      {phyla}

      <T x={3659} y={1987} size={24} font={SERIF}>roles</T>
      <Box x={3669} y={2018} w={17} h={17} fill="#F8766D" round />
      <Box x={3669} y={2055} w={17} h={17} fill="#00BFC4" round />
      <T x={3708} y={2026.5} size={18} font={SERIF}>Connectors</T>
      <T x={3708} y={2063.5} size={18} font={SERIF}>Peripherals</T>
    </div>
  );
}
